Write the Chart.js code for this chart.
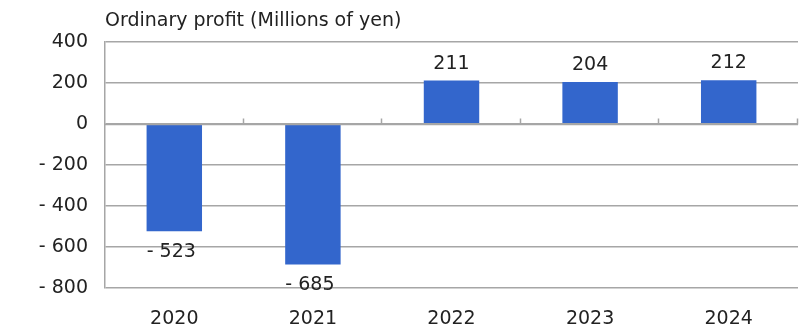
<!DOCTYPE html>
<html>
<head>
<meta charset="utf-8">
<script src="https://cdn.jsdelivr.net/npm/chart.js@4.4.0/dist/chart.umd.min.js"></script>
<style>
  html, body { margin: 0; padding: 0; background: #fff; }
  #wrap { width: 800px; height: 336px; }
</style>
</head>
<body>
<div id="wrap"><canvas id="c" width="800" height="336"></canvas></div>
<script>
const years = ['2020', '2021', '2022', '2023', '2024'];
const ordinaryProfit = [-523, -685, 211, 204, 212];
const yTicks = [-800, -600, -400, -200, 0, 200, 400];

const FONT = "'DejaVu Sans', Verdana, sans-serif";
const FONT_SIZE = 19;
const fmt = v => (v < 0 ? '- ' + Math.abs(v) : String(v));

// value labels above positive bars, below negative ones
const valueLabels = {
  id: 'valueLabels',
  afterDatasetsDraw(chart) {
    const ctx = chart.ctx;
    const meta = chart.getDatasetMeta(0);
    ctx.save();
    ctx.font = FONT_SIZE + 'px ' + FONT;
    ctx.fillStyle = '#222';
    ctx.textAlign = 'center';
    meta.data.forEach((bar, i) => {
      const v = ordinaryProfit[i];
      if (v >= 0) {
        ctx.textBaseline = 'alphabetic';
        ctx.fillText(fmt(v), bar.x, bar.y - 12);
      } else {
        ctx.textBaseline = 'top';
        ctx.fillText(fmt(v), bar.x - 3, bar.y + 11);
      }
    });
    ctx.restore();
  }
};

// category axis line drawn along zero, with small ticks between categories
const zeroAxis = {
  id: 'zeroAxis',
  afterDatasetsDraw(chart) {
    const { ctx, chartArea, scales } = chart;
    const y0 = Math.round(scales.y.getPixelForValue(0)) + 0.5;
    const step = (chartArea.right - chartArea.left) / years.length;
    ctx.save();
    ctx.strokeStyle = '#a6a6a6';
    ctx.lineWidth = 1.5;
    ctx.beginPath();
    ctx.moveTo(chartArea.left, y0);
    ctx.lineTo(chartArea.right, y0);
    for (let i = 1; i <= years.length; i++) {
      const x = Math.round(chartArea.left + step * i) - 0.5;
      ctx.moveTo(x, y0);
      ctx.lineTo(x, y0 - 6);
    }
    ctx.stroke();
    ctx.restore();
  }
};

new Chart(document.getElementById('c'), {
  type: 'bar',
  data: {
    labels: years,
    datasets: [{
      data: ordinaryProfit,
      backgroundColor: '#3366cc',
      categoryPercentage: 0.8,
      barPercentage: 0.5
    }]
  },
  options: {
    responsive: false,
    animation: false,
    layout: { padding: { left: 0, right: 2, top: 0, bottom: 0 } },
    plugins: {
      legend: { display: false },
      tooltip: { enabled: false },
      title: {
        display: true,
        text: 'Ordinary profit (Millions of yen)',
        align: 'start',
        fullSize: false,
        color: '#222',
        font: { family: FONT, size: FONT_SIZE, weight: 'normal' },
        padding: { top: 10, bottom: 9 }
      }
    },
    scales: {
      x: {
        afterFit: axis => { axis.height = 48; },
        grid: { display: false },
        border: { display: false },
        ticks: { color: '#222', font: { family: FONT, size: FONT_SIZE }, padding: 12 }
      },
      y: {
        min: -800,
        max: 400,
        afterBuildTicks: axis => { axis.ticks = yTicks.map(v => ({ value: v })); },
        afterFit: axis => { axis.width = 105; },
        grid: { color: '#a6a6a6', lineWidth: 1.5, drawTicks: false },
        border: { display: true, color: '#a6a6a6', width: 1.5 },
        ticks: {
          color: '#222',
          font: { family: FONT, size: FONT_SIZE },
          padding: 17,
          callback: v => fmt(v)
        }
      }
    }
  },
  plugins: [valueLabels, zeroAxis]
});
</script>
</body>
</html>
